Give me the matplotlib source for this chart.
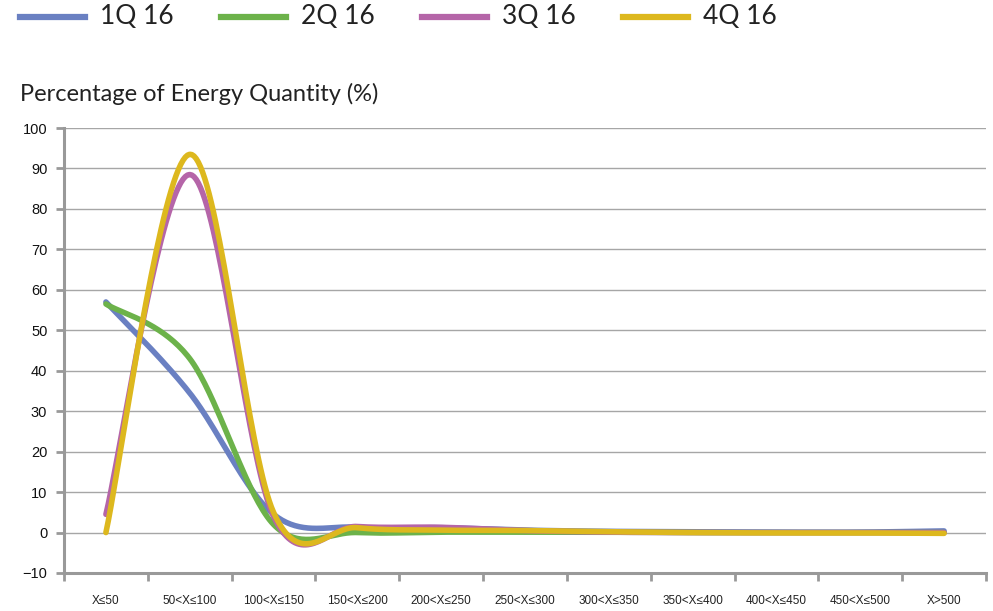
# Quarterly energy quantity distribution by price band, 2016

import numpy as np
import matplotlib.pyplot as plt
from matplotlib.lines import Line2D


categories = ["X≤50", "50<X≤100", "100<X≤150", "150<X≤200", "200<X≤250",
              "250<X≤300", "300<X≤350", "350<X≤400", "400<X≤450",
              "450<X≤500", "X>500"]

q1_values = [57.0, 34.5, 4.5, 1.3, 1.2, 0.6, 0.3, 0.2, 0.1, 0.1, 0.4]
q2_values = [56.5, 43.0, 2.0, 0.0, 0.1, 0.1, 0.1, 0.0, 0.0, 0.0, 0.0]
q3_values = [4.5, 88.5, 4.0, 1.5, 1.3, 0.5, 0.1, 0.0, 0.0, 0.0, 0.0]
q4_values = [0.0, 93.5, 5.0, 1.2, 0.6, 0.5, 0.2, 0.0, -0.1, -0.1, -0.2]

series_names = ["1Q 16", "2Q 16", "3Q 16", "4Q 16"]
series_colors = ["#6A80C2", "#6CB24A", "#B565A8", "#DDB81E"]


# Bezier smoothing through every point, same idea as a spreadsheet "smoothed line"
def smooth_curve(xs, ys, steps=40):
    xs = np.asarray(xs, dtype=float)
    ys = np.asarray(ys, dtype=float)
    pts = np.column_stack([xs, ys])
    n = len(pts)
    out = []
    for i in range(n - 1):
        p0 = pts[i - 1] if i > 0 else pts[i]
        p1 = pts[i]
        p2 = pts[i + 1]
        p3 = pts[i + 2] if i + 2 < n else pts[i + 1]
        c1 = p1 + (p2 - p0) / 6.0
        c2 = p2 - (p3 - p1) / 6.0
        t = np.linspace(0, 1, steps)[:, None]
        seg = ((1 - t) ** 3) * p1 + 3 * ((1 - t) ** 2) * t * c1 \
            + 3 * (1 - t) * t ** 2 * c2 + t ** 3 * p2
        out.append(seg if i == 0 else seg[1:])
    curve = np.vstack(out)
    return curve[:, 0], curve[:, 1]


def main():
    fig = plt.figure(figsize=(9.93, 6.11), dpi=100)
    ax = fig.add_axes([64 / 993, 1 - 573 / 611, (986 - 64) / 993, (573 - 128) / 611])

    x_centers = np.arange(len(categories)) + 0.5
    all_series = [q1_values, q2_values, q3_values, q4_values]
    for values, color in zip(all_series, series_colors):
        sx, sy = smooth_curve(x_centers, values)
        ax.plot(sx, sy, color=color, linewidth=4.0, solid_capstyle="round", zorder=3)

    ax.set_xlim(0, len(categories))
    ax.set_ylim(-10, 100)
    ax.set_yticks(np.arange(-10, 101, 10))
    ax.grid(axis="y", color="#A6A6A6", linewidth=1.0)
    ax.set_axisbelow(True)

    ax.set_xticks(np.arange(len(categories) + 1))
    ax.set_xticklabels([])
    ax.set_xticks(x_centers, minor=True)
    ax.set_xticklabels(categories, minor=True, fontsize=8.5,
                       family="Liberation Sans", color="#222222")
    ax.tick_params(axis="x", which="minor", length=0, pad=16)
    ax.tick_params(axis="x", which="major", length=6, width=2, color="#999999")
    ax.tick_params(axis="y", length=6, width=2, color="#999999", labelsize=10.5,
                   labelcolor="#111111", pad=6)
    for lab in ax.get_yticklabels():
        lab.set_family("Liberation Sans")

    for side in ["top", "right"]:
        ax.spines[side].set_visible(False)
    for side in ["left", "bottom"]:
        ax.spines[side].set_color("#999999")
        ax.spines[side].set_linewidth(2.2)

    # legend row along the top
    for i, (name, color) in enumerate(zip(series_names, series_colors)):
        x0 = (20 + i * 201) / 993
        y0 = 1 - 17 / 611
        fig.add_artist(Line2D([x0, x0 + 65 / 993], [y0, y0], color=color,
                              linewidth=4.5, transform=fig.transFigure))
        fig.text(x0 + 80 / 993, y0, name, fontsize=19, family="Lato",
                 color="#222222", va="center", ha="left")

    fig.text(20 / 993, 1 - 94 / 611, "Percentage of Energy Quantity (%)",
             fontsize=17, family="Lato", color="#222222", va="center", ha="left")

    fig.savefig("out.png", dpi=100)


if __name__ == "__main__":
    main()
